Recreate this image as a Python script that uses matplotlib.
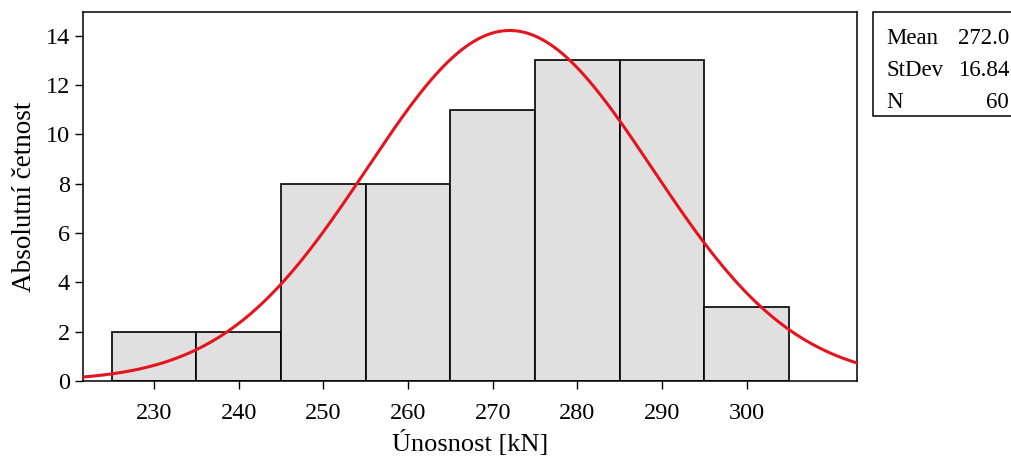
import numpy as np
import matplotlib
matplotlib.use("Agg")
import matplotlib.pyplot as plt
from matplotlib.patches import Rectangle

plt.rcParams['font.family'] = ['Liberation Serif', 'DejaVu Serif']

# Histogram data: load capacity bins (kN) and absolute frequencies
bin_edges = [225, 235, 245, 255, 265, 275, 285, 295, 305]
counts = [2, 2, 8, 8, 11, 13, 13, 3]
mean_val = 272.0
std_val = 16.84
n_obs = 60
x_ticks = [230, 240, 250, 260, 270, 280, 290, 300]
y_ticks = [0, 2, 4, 6, 8, 10, 12, 14]

fig = plt.figure(figsize=(10.12, 4.57), dpi=100)
ax = fig.add_axes([0.082, 0.1663, 0.7646, 0.8067])

lefts = bin_edges[:-1]
widths = np.diff(bin_edges)
ax.bar(lefts, counts, width=widths, align='edge', color='#e0e0e0',
       edgecolor='black', linewidth=1.2, zorder=2)

# Normal curve scaled to counts
xlim = (221.6, 313.0)
xs = np.linspace(xlim[0], xlim[1], 400)
bw = widths[0]
ys = n_obs * bw / (std_val * np.sqrt(2 * np.pi)) * np.exp(-0.5 * ((xs - mean_val) / std_val) ** 2)
ax.plot(xs, ys, color='#e3151e', linewidth=2.2, zorder=3)

ax.set_xlim(*xlim)
ax.set_ylim(0, 14.95)
ax.set_xticks(x_ticks)
ax.set_yticks(y_ticks)
ax.tick_params(axis='both', labelsize=17.5, length=6, width=1, direction='out')
ax.tick_params(axis='x', pad=10)
for s in ax.spines.values():
    s.set_linewidth(1.1)

ax.set_xlabel('Únosnost [kN]', fontsize=19, labelpad=4)
ax.set_ylabel('Absolutní četnost', fontsize=19.5, labelpad=6)

# Summary statistics box
fig.patches.append(Rectangle((873 / 1012, 1 - 116 / 457), 0.2, (116 - 12) / 457,
                             transform=fig.transFigure, facecolor='white',
                             edgecolor='black', linewidth=1.1))
rows = [('Mean', f'{mean_val:.1f}'), ('StDev', f'{std_val:.2f}'), ('N', f'{n_obs}')]
for i, (k, v) in enumerate(rows):
    y = 1 - (39 + i * 32) / 457
    fig.text(886 / 1012, y, k, fontsize=16.5, ha='left', va='center')
    fig.text(1009 / 1012, y, v, fontsize=16.5, ha='right', va='center')

fig.savefig('out.png', dpi=100)
